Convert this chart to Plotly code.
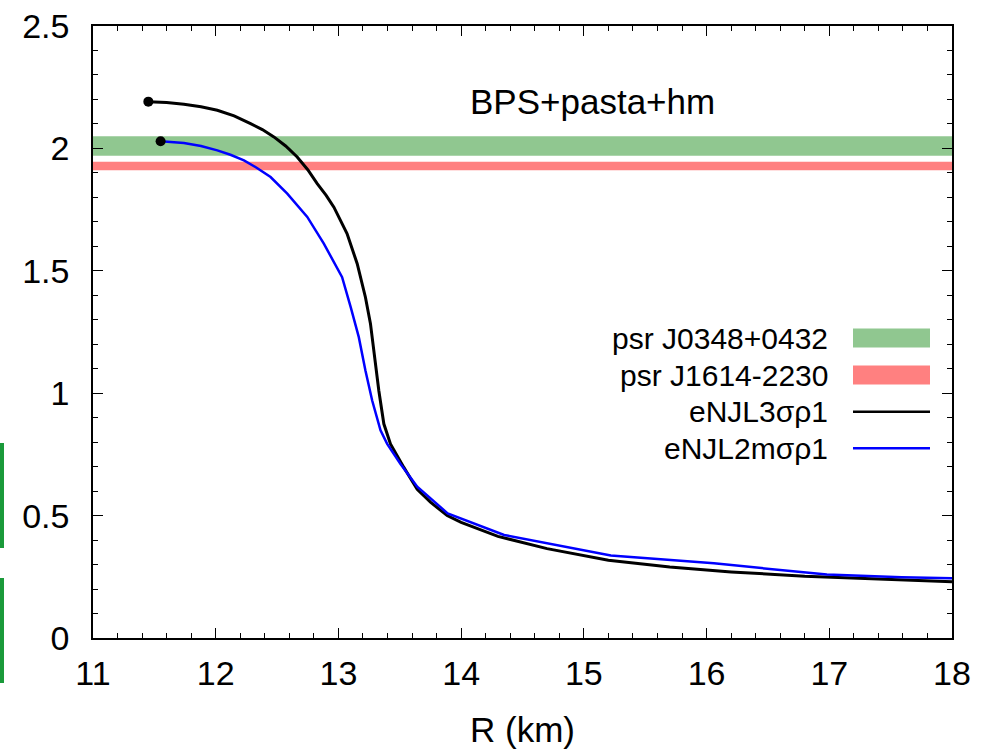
import plotly.graph_objects as go

# ---- data ----
R_black = [11.451, 11.6, 11.741, 11.88, 12.013, 12.15, 12.284, 12.38, 12.474, 12.57,
           12.664, 12.75, 12.827, 12.9, 12.963, 13.07, 13.153, 13.22, 13.261, 13.294,
           13.329, 13.37, 13.424, 13.533, 13.642, 13.75, 13.886, 14.0, 14.3, 14.7,
           15.2, 15.7, 16.2, 16.8, 17.4, 18.0]
M_black = [2.191, 2.187, 2.180, 2.170, 2.156, 2.133, 2.101, 2.077, 2.047, 2.010,
           1.965, 1.913, 1.856, 1.808, 1.760, 1.652, 1.529, 1.392, 1.284, 1.147,
           1.011, 0.875, 0.793, 0.697, 0.607, 0.555, 0.500, 0.472, 0.415, 0.365,
           0.318, 0.290, 0.270, 0.252, 0.240, 0.230]

R_blue = [11.551, 11.741, 11.88, 12.013, 12.12, 12.23, 12.33, 12.447, 12.583, 12.66,
          12.746, 12.881, 12.95, 13.03, 13.1, 13.166, 13.22, 13.275, 13.343, 13.397,
          13.506, 13.642, 13.89, 14.35, 15.22, 16.06, 16.98, 17.59, 18.0]
M_blue = [2.029, 2.022, 2.010, 1.992, 1.974, 1.951, 1.922, 1.883, 1.815, 1.770,
          1.720, 1.611, 1.547, 1.474, 1.352, 1.229, 1.093, 0.970, 0.848, 0.793,
          0.711, 0.618, 0.509, 0.421, 0.337, 0.305, 0.259, 0.248, 0.244]

band_names = ["psr J0348+0432", "psr J1614-2230"]
band_lo = [1.97, 1.911]
band_hi = [2.05, 1.945]
band_colors = ["#90c790", "#ff8080"]

curve_names = ["eNJL3σρ1", "eNJL2mσρ1"]
curve_colors = ["black", "#0000ff"]
curve_widths = [3, 2.5]

label_text = "BPS+pasta+hm"
label_pos = (15.07, 2.19)

FONT = "Liberation Sans, Arial, Helvetica, sans-serif"

fig = go.Figure()

# bands
for lo, hi, c in zip(band_lo, band_hi, band_colors):
    fig.add_shape(type="rect", xref="x domain", yref="y", x0=0, x1=1, y0=lo, y1=hi,
                  fillcolor=c, line_width=0, layer="below")

# curves
for R, M, c, w, n in zip([R_black, R_blue], [M_black, M_blue], curve_colors, curve_widths, curve_names):
    fig.add_trace(go.Scatter(x=R, y=M, mode="lines", line=dict(color=c, width=w),
                             name=n, showlegend=False, hoverinfo="skip"))
    fig.add_trace(go.Scatter(x=[R[0]], y=[M[0]], mode="markers",
                             marker=dict(color="black", size=10), showlegend=False))

fig.add_annotation(x=label_pos[0], y=label_pos[1], text=label_text, showarrow=False,
                   xanchor="center", yanchor="middle", font=dict(size=35, color="black", family=FONT))

# custom gnuplot-style legend (text then sample)
W, H = 997, 749
ml, mr, mt, mb = 93, 45, 26, 111
pw, ph = W - ml - mr, H - mt - mb


def px_x(p):
    return (p - ml) / pw


def px_y(p):
    return (H - mb - p) / ph


rows = [338, 375, 411.7, 448.3]
entries = list(zip(band_names, band_colors, ["band", "band"])) + \
    list(zip(curve_names, curve_colors, ["line", "line"]))
for (name, col, kind), ry, in zip(entries, rows):
    fig.add_annotation(xref="paper", yref="paper", x=px_x(830), y=px_y(ry), text=name,
                       showarrow=False, xanchor="right", yanchor="middle",
                       font=dict(size=30, color="black", family=FONT))
    if kind == "band":
        fig.add_shape(type="rect", xref="paper", yref="paper", x0=px_x(853), x1=px_x(930),
                      y0=px_y(ry + 9.5), y1=px_y(ry - 9.5), fillcolor=col, line_width=0)
    else:
        fig.add_shape(type="line", xref="paper", yref="paper", x0=px_x(853), x1=px_x(930),
                      y0=px_y(ry), y1=px_y(ry), line=dict(color=col, width=2.5))

# green edge marks at the left border (as in the reference crop)
for y0, y1 in [(443, 548), (578, 683)]:
    fig.add_shape(type="rect", xref="paper", yref="paper", x0=px_x(0), x1=px_x(4),
                  y0=px_y(y1), y1=px_y(y0), fillcolor="#1a9a3a", line_width=0)

axis_common = dict(showline=True, linecolor="black", linewidth=1.5, mirror="allticks",
                   ticks="inside", ticklen=10, tickwidth=1.2, tickcolor="black",
                   showgrid=False, zeroline=False,
                   tickfont=dict(size=34, color="black", family=FONT))

fig.update_xaxes(range=[11, 18], dtick=1, tick0=11,
                 minor=dict(dtick=0.2, ticks="inside", ticklen=5, tickcolor="black", showgrid=False),
                 title=dict(text="R (km)", font=dict(size=35, color="black", family=FONT), standoff=30),
                 ticklabelstandoff=4, **axis_common)
fig.update_yaxes(range=[0, 2.5], dtick=0.5, tick0=0,
                 minor=dict(dtick=0.1, ticks="inside", ticklen=5, tickcolor="black", showgrid=False),
                 ticklabelstandoff=15, **axis_common)

fig.update_layout(width=W, height=H, margin=dict(l=ml, r=mr, t=mt, b=mb, autoexpand=False),
                  plot_bgcolor="white", paper_bgcolor="white", showlegend=False,
                  font=dict(family=FONT, color="black"))

fig.write_html("out.html")
